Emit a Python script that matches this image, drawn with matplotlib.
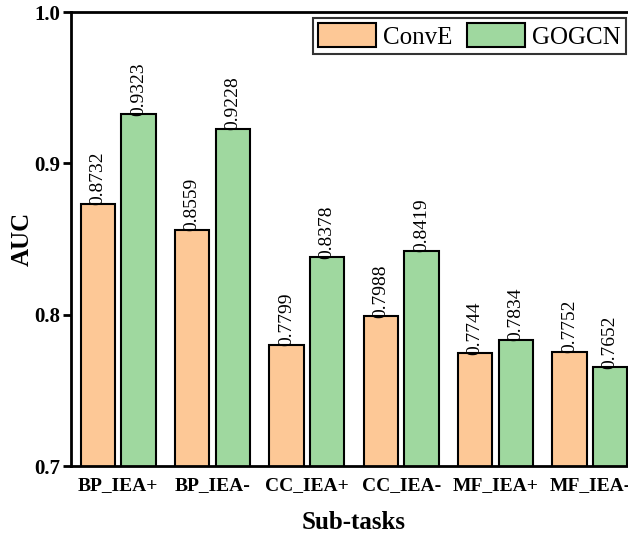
import matplotlib.pyplot as plt
import numpy as np

# sub-task AUC scores for the two models
tasks = ["BP_IEA+", "BP_IEA-", "CC_IEA+", "CC_IEA-", "MF_IEA+", "MF_IEA-"]
conve = [0.8732, 0.8559, 0.7799, 0.7988, 0.7744, 0.7752]
gogcn = [0.9323, 0.9228, 0.8378, 0.8419, 0.7834, 0.7652]
yticks = [0.7, 0.8, 0.9, 1.0]

plt.rcParams['font.family'] = ['Liberation Serif', 'DejaVu Serif']

fig = plt.figure(figsize=(6.28, 5.35), dpi=100)
ax = fig.add_axes([71 / 628, 69 / 535, 566 / 628, 454 / 535])

x = np.arange(len(tasks))
w = 0.365
off = 0.215

b1 = ax.bar(x - off, conve, w, color='#fdc896', edgecolor='black', linewidth=1.5, label='ConvE')
b2 = ax.bar(x + off, gogcn, w, color='#9fd89f', edgecolor='black', linewidth=1.5, label='GOGCN')

# value labels sitting on each bar top
for bars, vals in ((b1, conve), (b2, gogcn)):
    for b, v in zip(bars, vals):
        ax.text(b.get_x() + b.get_width() / 2, v - 0.0008, f"{v:.4f}",
                rotation=90, ha='center', va='bottom', fontsize=14)

ax.set_xlim(-0.5, 5.5)
ax.set_ylim(0.7, 1.0)
ax.set_yticks(yticks)
ax.set_yticklabels([f"{t:.1f}" for t in yticks], fontsize=15, fontweight='bold')
ax.set_xticks(x)
ax.set_xticklabels(tasks, fontsize=14, fontweight='bold')
ax.tick_params(axis='x', length=0, pad=8)
ax.tick_params(axis='y', direction='out', length=6, width=2, pad=2)

for s in ax.spines.values():
    s.set_linewidth(2)

ax.set_xlabel("Sub-tasks", fontsize=18, fontweight='bold', labelpad=12)
ax.set_ylabel("AUC", fontsize=18, fontweight='bold', labelpad=0)

leg = ax.legend(loc='upper right', bbox_to_anchor=(626 / 628, 1 - 18 / 535),
                bbox_transform=fig.transFigure, ncol=2, fontsize=18,
                frameon=True, fancybox=False, edgecolor='black',
                handlelength=2.3, handleheight=1.1, handletextpad=0.3,
                columnspacing=0.6, borderpad=0.2, borderaxespad=0)
leg.get_frame().set_linewidth(1.5)

fig.savefig("out.png", dpi=100)
